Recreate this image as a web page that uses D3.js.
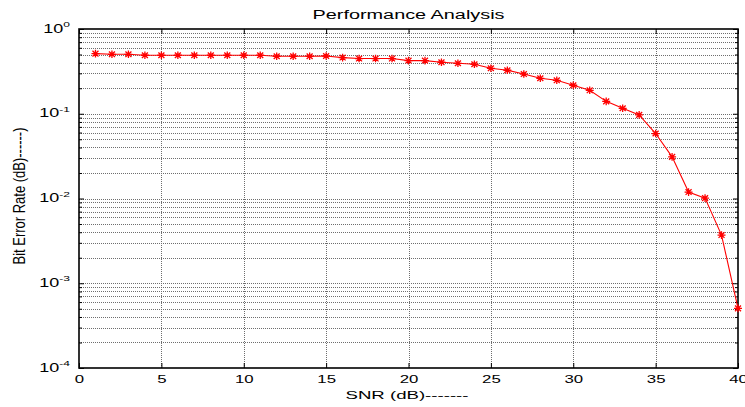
<!DOCTYPE html>
<html>
<head>
<meta charset="utf-8">
<script src="https://cdn.jsdelivr.net/npm/d3@7"></script>
<style>
  body { margin: 0; background: #fff; }
  text { font-family: "Liberation Sans", Arial, sans-serif; fill: #000; }
</style>
</head>
<body>
<div id="chart"></div>
<script>
// data
const snr = [1, 2, 3, 4, 5, 6, 7, 8, 9, 10,
  11, 12, 13, 14, 15, 16, 17, 18, 19, 20,
  21, 22, 23, 24, 25, 26, 27, 28, 29, 30,
  31, 32, 33, 34, 35, 36, 37, 38, 39, 40];
const ber = [0.512, 0.503, 0.503, 0.49, 0.49, 0.49, 0.49, 0.49, 0.49, 0.49,
  0.49, 0.477, 0.477, 0.477, 0.48, 0.46, 0.448, 0.448, 0.448, 0.424,
  0.424, 0.405, 0.394, 0.384, 0.344, 0.326, 0.294, 0.262, 0.248, 0.217,
  0.189, 0.140, 0.116, 0.097, 0.0584, 0.031, 0.0119, 0.0101, 0.0037, 0.000505];
const xTicks = [0, 5, 10, 15, 20, 25, 30, 35, 40];
const yExponents = [-4, -3, -2, -1, 0];
const minorMult = [2, 3, 4, 5, 6, 7, 8, 9];

const titleText = "Performance Analysis";
const xLabelText = "SNR (dB)-------";
const yLabelText = "Bit Error Rate (dB)------)";

// size and margins
const width = 745;
const height = 407;
const plotL = 79, plotR = 738, plotT = 29, plotB = 368;

const svg = d3.select("#chart")
  .append("svg")
    .attr("width", width)
    .attr("height", height);

const x = d3.scaleLinear().domain([0, 40]).range([plotL, plotR]);
const y = d3.scaleLog().domain([1e-4, 1]).range([plotB, plotT]);

const majorVals = yExponents.map(e => Math.pow(10, e));
const minorVals = [];
yExponents.slice(0, -1).forEach(e => {
  minorMult.forEach(m => minorVals.push(m * Math.pow(10, e)));
});

// grid (dotted, matlab style)
const grid = svg.append("g").attr("stroke", "#6e6e6e").attr("stroke-dasharray", "1,1")
  .attr("shape-rendering", "crispEdges");
grid.selectAll(".hg")
  .data(minorVals.concat(majorVals.slice(1, -1)))
  .join("line")
    .attr("x1", plotL).attr("x2", plotR)
    .attr("y1", d => Math.round(y(d)) + 0.5)
    .attr("y2", d => Math.round(y(d)) + 0.5);
grid.selectAll(".vg")
  .data(xTicks.slice(1, -1))
  .join("line")
    .attr("x1", d => Math.round(x(d)) + 0.5)
    .attr("x2", d => Math.round(x(d)) + 0.5)
    .attr("y1", plotT).attr("y2", plotB);

// x axis, ticks pointing inside
const xAxis = svg.append("g")
  .attr("transform", `translate(0,${plotB})`)
  .call(d3.axisBottom(x).tickValues(xTicks).tickSizeInner(-5).tickSizeOuter(0).tickPadding(8));
xAxis.select(".domain").remove();
xAxis.selectAll("text")
  .attr("font-size", 10.5)
  .attr("font-family", "Liberation Sans, Arial, sans-serif")
  .attr("transform", "scale(1.6,1)");
svg.append("g")
  .attr("transform", `translate(0,${plotT})`)
  .call(d3.axisTop(x).tickValues(xTicks).tickSizeInner(-5).tickSizeOuter(0).tickFormat(""))
  .select(".domain").remove();

// y axis: minor ticks, both sides
svg.append("g")
  .attr("transform", `translate(${plotL},0)`)
  .call(d3.axisLeft(y).tickValues(minorVals).tickSizeInner(-3).tickSizeOuter(0).tickFormat(""))
  .select(".domain").remove();
svg.append("g")
  .attr("transform", `translate(${plotR},0)`)
  .call(d3.axisRight(y).tickValues(minorVals).tickSizeInner(-3).tickSizeOuter(0).tickFormat(""))
  .select(".domain").remove();
svg.append("g")
  .attr("transform", `translate(${plotR},0)`)
  .call(d3.axisRight(y).tickValues(majorVals).tickSizeInner(-5).tickSizeOuter(0).tickFormat(""))
  .select(".domain").remove();

// y axis: decades with 10^n labels
const yAxis = svg.append("g")
  .attr("transform", `translate(${plotL},0)`)
  .call(d3.axisLeft(y).tickValues(majorVals).tickSizeInner(-5).tickSizeOuter(0).tickFormat(""));
yAxis.select(".domain").remove();
yAxis.selectAll(".tick").each(function(d) {
  const t = d3.select(this).select("text");
  t.text(null)
    .attr("x", 0)
    .attr("dy", "0.32em")
    .attr("text-anchor", "end")
    .attr("font-family", "Liberation Sans, Arial, sans-serif")
    .attr("transform", "translate(-9,0) scale(1.5,1)");
  t.append("tspan").attr("font-size", 12).text("10");
  t.append("tspan").attr("font-size", 8).attr("dy", "-0.7em").text(Math.round(Math.log10(d)));
});

// box
svg.append("rect")
  .attr("x", plotL).attr("y", plotT)
  .attr("width", plotR - plotL).attr("height", plotB - plotT)
  .attr("fill", "none").attr("stroke", "#000").attr("stroke-width", 1.6);

// BER curve
const pts = snr.map((s, i) => [s, ber[i]]);
svg.append("path")
  .datum(pts)
  .attr("fill", "none")
  .attr("stroke", "#ff0000")
  .attr("stroke-width", 1.1)
  .attr("d", d3.line().x(d => x(d[0])).y(d => y(d[1])));

const star = "M-4,0H4M0,-3.8V3.8M-3,-2.8L3,2.8M-3,2.8L3,-2.8";
svg.append("g")
  .selectAll("path")
  .data(pts)
  .join("path")
    .attr("transform", d => `translate(${x(d[0])},${y(d[1])})`)
    .attr("d", star)
    .attr("fill", "none")
    .attr("stroke", "#ff0000")
    .attr("stroke-width", 1.3);

// title and labels
svg.append("text")
  .attr("x", (plotL + plotR) / 2).attr("y", 19)
  .attr("text-anchor", "middle")
  .attr("font-size", 12.5)
  .attr("textLength", 192).attr("lengthAdjust", "spacingAndGlyphs")
  .text(titleText);

svg.append("text")
  .attr("x", 407).attr("y", 399)
  .attr("text-anchor", "middle")
  .attr("font-size", 11.5)
  .attr("textLength", 123).attr("lengthAdjust", "spacingAndGlyphs")
  .text(xLabelText);

svg.append("text")
  .attr("transform", "translate(25,196) scale(1.45,1) rotate(-90)")
  .attr("text-anchor", "middle")
  .attr("font-size", 12)
  .attr("textLength", 137).attr("lengthAdjust", "spacingAndGlyphs")
  .text(yLabelText);
</script>
</body>
</html>
